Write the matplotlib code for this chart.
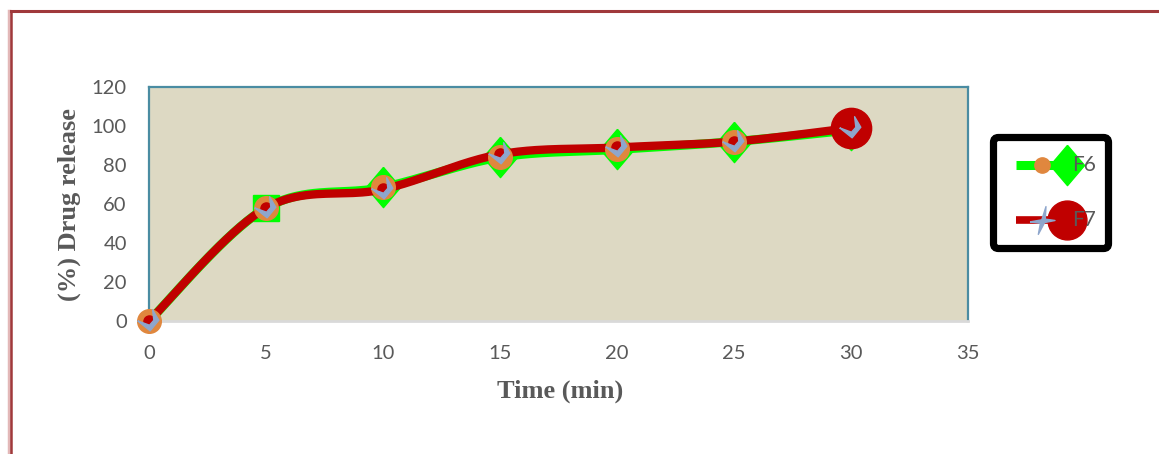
import numpy as np
import matplotlib
matplotlib.use("Agg")
import matplotlib.pyplot as plt
from matplotlib.lines import Line2D
from matplotlib.patches import FancyBboxPatch

# ---- data ----
time_min = [0, 5, 10, 15, 20, 25, 30]
f6_release = [0, 58, 68.5, 84, 88, 92, 98]
f7_release = [0, 58, 67.5, 85.5, 89, 92, 99]
x_ticks = [0, 5, 10, 15, 20, 25, 30, 35]
y_ticks = [0, 20, 40, 60, 80, 100, 120]
series_names = ["F6", "F7"]

W, H = 1159, 454
fig = plt.figure(figsize=(W / 100, H / 100), dpi=100)


def px(x, y):
    return x / W, 1 - y / H


def smooth(xs, ys, n=40):
    p = np.column_stack([xs, ys]).astype(float)
    out = [p[0]]
    for i in range(len(p) - 1):
        p0 = p[i - 1] if i > 0 else p[i]
        p1, p2 = p[i], p[i + 1]
        p3 = p[i + 2] if i + 2 < len(p) else p[i + 1]
        c1 = p1 + (p2 - p0) / 6
        c2 = p2 - (p3 - p1) / 6
        t = np.linspace(0, 1, n)[1:, None]
        seg = ((1 - t) ** 3) * p1 + 3 * ((1 - t) ** 2) * t * c1 + 3 * (1 - t) * t ** 2 * c2 + t ** 3 * p2
        out.extend(seg)
    out = np.array(out)
    return out[:, 0], out[:, 1]


# outer border
fig.add_artist(Line2D([8.5 / W, 8.5 / W], [0, 1 - 11 / H], transform=fig.transFigure,
                      color="#e3b8b8", lw=2.5))
fig.add_artist(Line2D([11 / W, 11 / W], [0, 1 - 11 / H], transform=fig.transFigure,
                      color="#a0393b", lw=1.8))
fig.add_artist(Line2D([11 / W, 1], [1 - 11 / H, 1 - 11 / H], transform=fig.transFigure,
                      color="#a0393b", lw=2.2))

# axes
l, r, t, b = 149, 968, 87, 321
ax = fig.add_axes([l / W, 1 - b / H, (r - l) / W, (b - t) / H])
ax.set_facecolor("#ddd9c3")
ax.set_xlim(0, 35)
ax.set_ylim(0, 120)
ax.set_xticks(x_ticks)
ax.set_yticks(y_ticks)
tick_font = dict(family="Lato", size=14.5, color="#595959")
ax.set_xticklabels([str(v) for v in x_ticks], **tick_font)
ax.set_yticklabels([str(v) for v in y_ticks], **tick_font)
ax.tick_params(axis="both", length=0)
ax.tick_params(axis="y", pad=16)
ax.tick_params(axis="x", pad=17)
for side in ["top", "right", "left"]:
    ax.spines[side].set_color("#4a8ca2")
    ax.spines[side].set_linewidth(1.6)
ax.spines["bottom"].set_color("#d9d9d9")
ax.spines["bottom"].set_linewidth(2)

# marker shapes
chev = [(-0.95, 0.05), (0.05, -0.75), (0.75, 0.1), (0.25, 0.95), (0.35, 0.1), (0.0, -0.3), (-0.95, 0.05)]
wide_diamond = [(0, 1), (0.85, 0), (0, -1), (-0.85, 0), (0, 1)]

# F6
sx, sy = smooth(time_min, f6_release)
ax.plot(sx, sy, color="#00ff00", lw=6.5, solid_capstyle="round", zorder=2, clip_on=False)
ax.plot(time_min[1:2], f6_release[1:2], ls="none", marker="s", ms=19, color="#00ff00", zorder=3)
ax.plot(time_min[2:], f6_release[2:], ls="none", marker=wide_diamond, ms=29, color="#00ff00",
        zorder=3)

# F7
sx, sy = smooth(time_min, f7_release)
ax.plot(sx, sy, color="#c00000", lw=6, solid_capstyle="round", zorder=4, clip_on=False)
ax.plot(time_min[:-1], f6_release[:-1], ls="none", marker="o", ms=17, color="#e0873e", zorder=5,
        clip_on=False)
ax.plot(time_min[:-1], f7_release[:-1], ls="none", marker="o", ms=8, color="#c00000", zorder=6,
        clip_on=False)
ax.plot(time_min[-1:], f7_release[-1:], ls="none", marker="o", ms=29, color="#c00000", zorder=6)
ax.plot(time_min, f7_release, ls="none", marker=chev, ms=17, color="#8ea6cc", zorder=7,
        clip_on=False)

# axis labels
lab_font = dict(family="Liberation Serif", weight="bold", size=19, color="#595959")
fig.text(*px(69, 205), "(%) Drug release", rotation=90, ha="center", va="center", **lab_font)
fig.text(*px(560, 391), "Time (min)", ha="center", va="center", **lab_font)

# legend (drawn in pixel coordinates)
lax = fig.add_axes([0, 0, 1, 1], facecolor="none")
lax.set_xlim(0, W)
lax.set_ylim(H, 0)
lax.axis("off")
lx0, ly0, lx1, ly1 = 993.5, 137.5, 1108.5, 248.5
box = FancyBboxPatch((lx0, ly0), lx1 - lx0, ly1 - ly0,
                     boxstyle="round,pad=0,rounding_size=5",
                     facecolor="white", edgecolor="black", lw=5.2, zorder=1)
lax.add_patch(box)
lax.plot([1016, 1060], [165, 165], color="#00ff00", lw=6.5, solid_capstyle="butt", zorder=2)
lax.plot([1067], [165], marker=wide_diamond, ms=29, color="#00ff00", ls="none", zorder=3)
lax.plot([1042], [165], marker="o", ms=11, color="#e0873e", ls="none", zorder=4)
lax.plot([1016, 1050], [220, 220], color="#c00000", lw=5.5, solid_capstyle="butt", zorder=2)
lax.plot([1067], [220], marker="o", ms=28, color="#c00000", ls="none", zorder=3)
star = [(-0.9, -0.1), (-0.05, 0.05), (0.25, 1.0), (0.2, 0.1), (0.9, 0.0), (0.15, -0.15),
        (-0.3, -1.0), (-0.15, -0.2), (-0.9, -0.1)]
lax.plot([1042], [220], marker=star, ms=20, color="#8ea6cc", ls="none", zorder=4)
leg_font = dict(family="Lato", size=15, color="#595959")
lax.text(1072, 165, series_names[0], ha="left", va="center", zorder=5, **leg_font)
lax.text(1072, 220, series_names[1], ha="left", va="center", zorder=5, **leg_font)

fig.savefig("out.png", dpi=100)
